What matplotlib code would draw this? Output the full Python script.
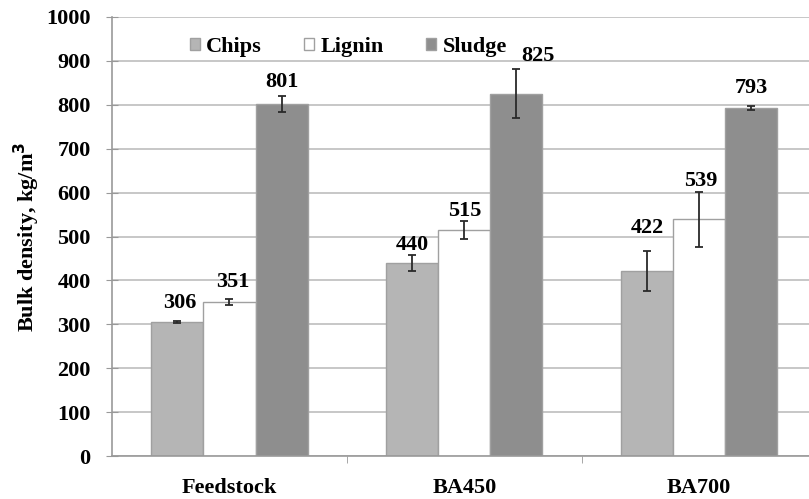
import matplotlib.pyplot as plt
import numpy as np

plt.rcParams['font.family'] = ['Liberation Serif', 'DejaVu Serif']
plt.rcParams['font.weight'] = 'bold'

categories = ['Feedstock', 'BA450', 'BA700']
series = ['Chips', 'Lignin', 'Sludge']
chips = [306, 440, 422]
lignin = [351, 515, 539]
sludge = [801, 825, 793]
chips_err = [2, 18, 45]
lignin_err = [7, 20, 62]
sludge_err = [18, 56, 5]

values = [chips, lignin, sludge]
errors = [chips_err, lignin_err, sludge_err]
colors = ['#b5b5b5', '#ffffff', '#8e8e8e']
# label offsets from bar top, in pixels (dx, dy)
label_dx = [[2, 0, 0], [3, 0, 2], [0, 22, 0]]
label_dy = [[19, 18, 43], [20, 19, 38], [22, 38, 20]]

fig = plt.figure(figsize=(8.09, 4.99), dpi=100)
ax = fig.add_axes([0.1385, 0.086, 0.865, 0.88])

x = np.arange(len(categories))
w = 0.222
for i in range(3):
    pos = x + (i - 1) * w
    ax.bar(pos, values[i], w, color=colors[i], edgecolor='#a0a0a0', linewidth=1,
           label=series[i], zorder=2)
    ax.errorbar(pos, values[i], yerr=errors[i], fmt='none', ecolor='#2a2a2a',
                elinewidth=1.3, capsize=3, capthick=1.3, zorder=3)
    for j in range(3):
        ax.annotate(str(values[i][j]), (pos[j], values[i][j]),
                    xytext=(label_dx[i][j], label_dy[i][j]), textcoords='offset pixels',
                    ha='center', va='center', fontsize=16, fontweight='bold')

ax.set_ylim(0, 1000)
ax.set_yticks(range(0, 1001, 100))
ax.set_xlim(-0.5, 2.48)
ax.set_xticks(x)
ax.set_xticklabels(categories)
ax.set_xticks([0.5, 1.5], minor=True)
ax.tick_params(axis='x', which='major', length=0, pad=16, labelsize=16)
ax.tick_params(axis='x', which='minor', length=5, color='#999999')
ax.tick_params(axis='y', direction='inout', length=9, color='#999999',
               labelsize=16, pad=11)
ax.yaxis.grid(True, color='#bdbdbd', linewidth=1.2, zorder=0)
ax.set_axisbelow(True)
for s in ['top', 'right']:
    ax.spines[s].set_visible(False)
for s in ['left', 'bottom']:
    ax.spines[s].set_color('#999999')
    ax.spines[s].set_linewidth(1.2)

ax.set_ylabel('Bulk density, kg/m$^\\mathbf{3}$', fontsize=16, fontweight='bold', labelpad=3)

ax.legend(loc='upper left', bbox_to_anchor=(0.095, 0.98), ncol=3, frameon=False,
          fontsize=16, handlelength=0.45, handleheight=0.45, handletextpad=0.3,
          columnspacing=1.9, borderaxespad=0.1)

fig.savefig('out.png', dpi=100)
